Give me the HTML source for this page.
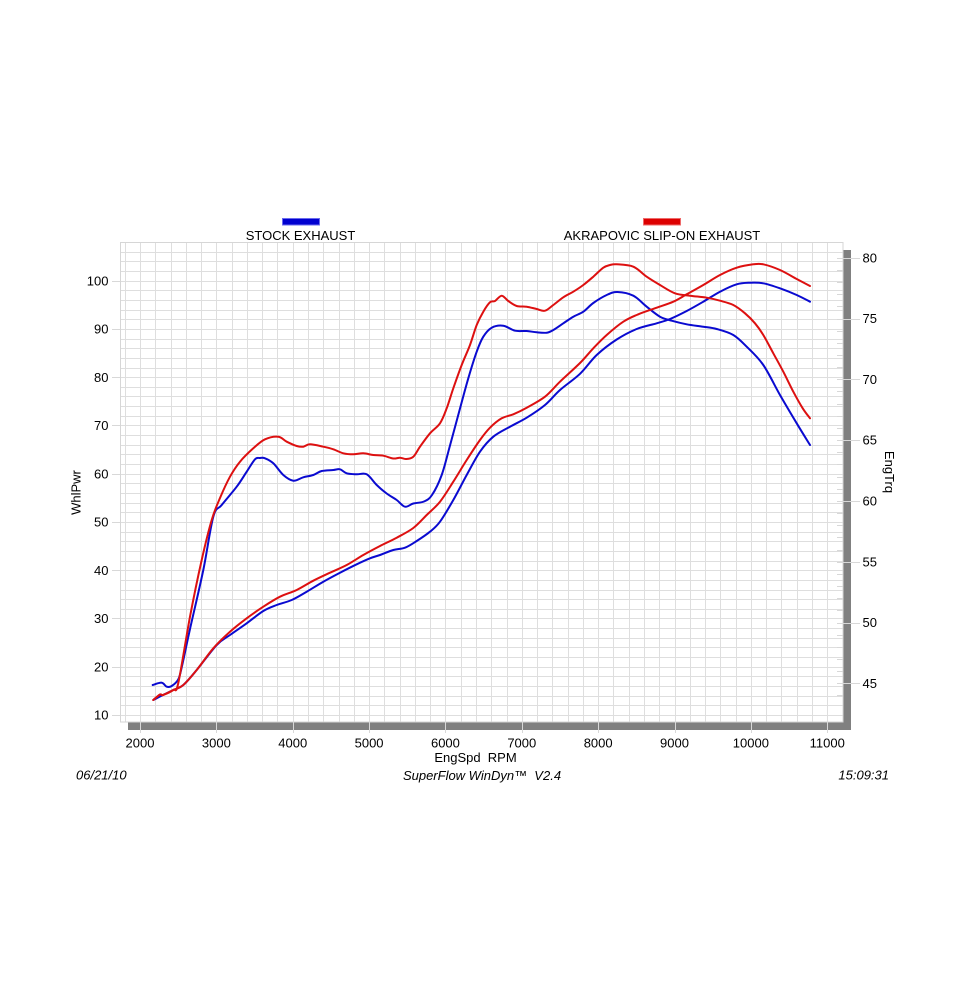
<!DOCTYPE html>
<html><head><meta charset="utf-8"><style>
html,body{margin:0;padding:0;background:#fff;}
svg{display:block;}
text{font-family:"Liberation Sans",Arial,sans-serif;font-size:13px;fill:#000;}
</style></head><body>
<svg width="961" height="1000" viewBox="0 0 961 1000" xmlns="http://www.w3.org/2000/svg">
<rect x="0" y="0" width="961" height="1000" fill="#fff"/>
<!-- shadow -->
<rect x="843.5" y="250" width="7.5" height="480" fill="#808080"/>
<rect x="128" y="722.5" width="723" height="7.5" fill="#808080"/>
<!-- plot bg -->
<rect x="120" y="242" width="723" height="480" fill="#fff"/>
<g id="grid" stroke="#dedede" stroke-width="1" fill="none">
<path id="vgrid" d=""/>
<path id="hgrid" d=""/>
</g>
<rect x="120.5" y="242.5" width="722.5" height="479.5" fill="none" stroke="#d6d6d6" stroke-width="1"/>
<g id="ticks" stroke="#d8d8d8" stroke-width="1"></g>
<g id="labels"></g>
<g id="curves" fill="none" stroke-width="2" stroke-linejoin="round" stroke-linecap="round">
<polyline id="bt" stroke="#0a0ad0" points="152.7,685 161.7,682.7 166.7,686.7 171.7,686 178.3,679.3 182,666 190,629 203.3,570 213.3,516.7 221.7,505 236.7,486.7 246.7,471.7 255,459.3 260,458 265,458.3 273.3,463.3 283.3,475 293.3,480.7 303.3,477.3 313.3,475 321.7,471 333.3,470 340,469.3 346.7,473.3 356.7,474.3 366.7,474.3 376.7,485 386.7,493.5 396.7,500 405,506.7 413.3,503.5 424,501.5 432,495 441.7,475 450,445.5 460,408.5 468.3,378.3 476.7,351.7 483.3,336.7 491.7,327.7 503.3,325.7 515,330.7 526.7,331 536.7,332.3 546.7,332.7 553.3,330 563.3,323.3 573.3,316.7 583.3,311.7 593.3,303 606.7,295 617.5,292 633.3,295.7 646.7,306.7 660,316.7 671.7,320.7 686.7,324.3 703.3,326.7 716.7,329 733.3,335 746.7,346.7 763.3,365 780,395 796.7,423.3 810,445"/>
<polyline id="bh" stroke="#0a0ad0" points="153.3,700 163,695 173.3,690 183.3,685 196.7,670 216.7,645 230,635 246.7,623.3 263.3,611 276.7,605 291.7,600 306.7,591.7 323.3,581.7 340,572.7 356.7,564.3 370,558.3 380,555 393.3,550 405,547.7 416.7,541 430,531.7 440,521.7 453.3,500 466.7,475 480,451.7 493.3,436.7 510,426.7 526.7,417.7 545,405 560,390 580,373.8 596.7,355 616.7,339.5 636.7,329 656.7,323.3 670,319 686.7,311 703.3,301.7 720,291.7 736.7,284.3 750,282.7 763.3,283.3 780,288.3 796.7,295 810,301.7"/>
<polyline id="rh" stroke="#dd1010" points="153.3,700 160,694.5 163,695 173.3,690 183.3,685 196.7,670 213.3,648.3 230,631.7 246.7,618.3 263.3,606.7 280,596.7 296.7,590 313.3,580.7 330,572.7 346.7,565 363.3,555 380,546 396.7,537.7 413.3,528 426.7,515 440,501.7 453.3,481.7 466.7,460 480,440 490,427.7 501.7,418.3 513.3,414.3 526.7,407.7 545,396.7 560,381.7 580,363 593.3,348.3 606.7,335 623.3,321.7 638.3,314.3 656.7,307.7 673.3,301.7 686.7,294.3 703.3,285 720,275 736.7,267.7 753.3,264.3 763.3,264.3 780,270 796.7,279 810,286"/>
<polyline id="rt" stroke="#dd1010" points="153.3,700 160,694.5 163,695 173.3,690 178.3,683 190,616.7 201.7,560 211.7,520 220,498 230,476.7 240,461.7 253.3,448.3 265,439.3 278.3,436.7 286.7,441.7 296.7,446 303.3,446.7 310,444.3 323.3,446.7 333.3,449.3 343.3,453.3 353.3,454.3 363.3,453.3 373.3,455 383.3,455.7 393.3,458.5 400,457.7 406,459 413.3,456.7 420,446.7 430,433.3 440,423.3 446.7,408.3 453.3,388.3 461.7,365 470,345 476.7,325 483.3,311.7 490,302.3 495,301 501.7,295.7 508.3,301 516.7,306 526.7,306.7 536.7,309 545,310.7 553.3,305 563.3,297.3 573.3,291.7 583.3,285 593.3,276.7 603.3,267.7 610,265 616.7,264.3 633.3,266.7 646.7,276.7 660,285 675,293.3 690,295.7 706.7,297.7 720,300.7 733.3,305 745,313.3 755,323.3 763.3,335 773.3,353.3 783.3,371.7 793.3,391.7 802.7,408.3 810,418.3"/>
</g>
<!-- legend -->
<rect x="282.5" y="218.5" width="37" height="6.5" fill="#0000d0" stroke="#6a6aee" stroke-width="1"/>
<text x="300.5" y="240" text-anchor="middle">STOCK EXHAUST</text>
<rect x="643.5" y="218.5" width="37" height="6.5" fill="#dd0000" stroke="#ee6a6a" stroke-width="1"/>
<text x="662" y="240" text-anchor="middle">AKRAPOVIC SLIP-ON EXHAUST</text>
<!-- axis titles -->
<text x="475.5" y="762" text-anchor="middle">EngSpd&#160; RPM</text>
<text transform="translate(80.5,492.5) rotate(-90)" text-anchor="middle">WhlPwr</text>
<text transform="translate(885,472) rotate(90)" text-anchor="middle">EngTrq</text>
<!-- footer -->
<text x="76" y="779.5" font-style="italic">06/21/10</text>
<text x="482" y="780" text-anchor="middle" font-style="italic">SuperFlow WinDyn™&#160; V2.4</text>
<text x="889" y="779.5" text-anchor="end" font-style="italic">15:09:31</text>
</svg>
<script>
(function(){
var ns="http://www.w3.org/2000/svg";
var v="",h="";
for(var k=-1;k<=46;k++){var x=140+15.2727*k; if(x>120.5&&x<842.5){var xx=Math.round(x)+0.5; v+="M"+xx+" 243V722";}}
for(var k=0;k<=49;k++){var y=715-9.652*k; if(y>242.5&&y<721.5){var yy=Math.round(y)+0.5; h+="M121 "+yy+"H843";}}
document.getElementById("vgrid").setAttribute("d",v);
document.getElementById("hgrid").setAttribute("d",h);
var t=document.getElementById("ticks"),L=document.getElementById("labels");
function line(x1,y1,x2,y2){var l=document.createElementNS(ns,"line");l.setAttribute("x1",x1);l.setAttribute("y1",y1);l.setAttribute("x2",x2);l.setAttribute("y2",y2);t.appendChild(l);}
function txt(x,y,s,a){var e=document.createElementNS(ns,"text");e.setAttribute("x",x);e.setAttribute("y",y);e.setAttribute("text-anchor",a);e.textContent=s;L.appendChild(e);}
for(var i=0;i<10;i++){var x=140+76.36*i;var xx=Math.round(x)+0.5;line(xx,722,xx,733);txt(x,747.7,String(2000+1000*i),"middle");}
for(var i=0;i<10;i++){var val=10+10*i;var y=715-(val-10)*4.826;var yy=Math.round(y)+0.5;line(112,yy,120,yy);txt(108.5,y+4.6,String(val),"end");}
for(var i=0;i<8;i++){var val=80-5*i;var y=257.7+(80-val)*12.16;var yy=Math.round(y)+0.5;line(837,yy,860,yy);txt(862.5,y+4.6,String(val),"start");}
for(var j=0;j<=36;j++){var y=257.7+j*12.16; if(y<721){var yy=Math.round(y)+0.5; line(837,yy,843,yy);}}
// smooth polylines into Catmull-Rom paths
var ids=["bt","bh","rh","rt"];
for(var n=0;n<ids.length;n++){
 var pl=document.getElementById(ids[n]);
 var pts=pl.getAttribute("points").trim().split(/\s+/).map(function(s){var a=s.split(",");return [parseFloat(a[0]),parseFloat(a[1])];});
 var d="M"+pts[0][0]+" "+pts[0][1];
 for(var i=0;i<pts.length-1;i++){
  var p0=pts[i>0?i-1:i],p1=pts[i],p2=pts[i+1],p3=pts[i+2<pts.length?i+2:i+1];
  var c1x=p1[0]+(p2[0]-p0[0])/6,c1y=p1[1]+(p2[1]-p0[1])/6;
  var c2x=p2[0]-(p3[0]-p1[0])/6,c2y=p2[1]-(p3[1]-p1[1])/6;
  d+="C"+c1x.toFixed(2)+" "+c1y.toFixed(2)+" "+c2x.toFixed(2)+" "+c2y.toFixed(2)+" "+p2[0]+" "+p2[1];
 }
 var p=document.createElementNS(ns,"path");
 p.setAttribute("d",d);p.setAttribute("stroke",pl.getAttribute("stroke"));
 pl.parentNode.replaceChild(p,pl);
}
})();
</script>
</body></html>
